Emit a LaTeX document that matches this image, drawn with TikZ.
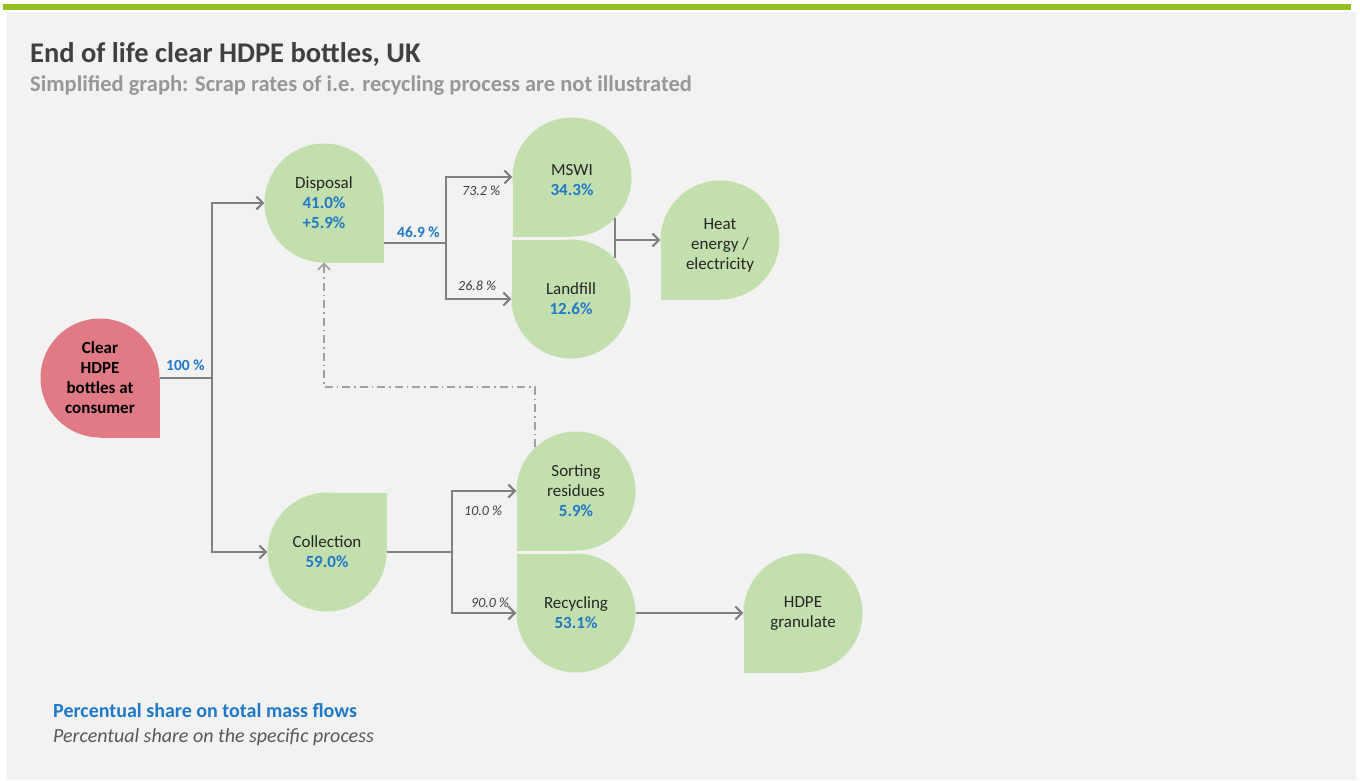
\documentclass[tikz,border=0pt]{standalone}
\usepackage{fontspec}
\setmainfont{Carlito}
\usetikzlibrary{arrows.meta}
\definecolor{panel}{HTML}{F2F2F2}
\definecolor{topbar}{HTML}{92C11F}
\definecolor{dropgreen}{HTML}{C3DFAD}
\definecolor{dropred}{HTML}{E07B86}
\definecolor{numblue}{HTML}{1F78C8}
\definecolor{flowgray}{HTML}{808080}
\definecolor{dashgray}{HTML}{A0A0A0}
\definecolor{titlegray}{HTML}{404040}
\definecolor{subgray}{HTML}{979797}
\definecolor{txtdark}{HTML}{262626}
\definecolor{legendgray}{HTML}{595959}
\tikzset{
  dropnode/.style={shape=rectangle, minimum width=119pt, minimum height=119pt, inner sep=0pt, align=center, text=txtdark, font=\fontsize{17}{20}\selectfont},
  flow/.style={draw=flowgray, line width=2pt},
  flowarrow/.style={flow, -{Straight Barb[length=6.5pt,width=13pt]}},
  recirc/.style={draw=dashgray, line width=1.5pt, dash pattern=on 8pt off 4pt on 1.5pt off 4pt, -{Straight Barb[length=6pt,width=12pt]}},
  pct/.style={anchor=base west, text=numblue, font=\fontsize{15.5}{18}\selectfont\bfseries, inner sep=0pt},
  share/.style={anchor=base west, text=titlegray, font=\fontsize{14}{17}\selectfont\itshape, inner sep=0pt},
  plaintext/.style={anchor=base west, inner sep=0pt},
}
\newcommand\bluenum[1]{\textcolor{numblue}{\textbf{#1}}}
\newcommand\teardrop[4]{\fill[#1] (#2) circle[radius=59.5pt]; \fill[#1] (#2) rectangle ++(#3,#4);}
\begin{document}
\begin{tikzpicture}[x=1pt,y=-1pt]
\useasboundingbox (0,0) rectangle (1360,780);
\fill[white] (0,0) rectangle (1360,780);
\fill[panel] (7,12) rectangle (1356,780);
\fill[topbar] (3,4) rectangle (1351,10);

\node[plaintext, text=titlegray, font=\fontsize{28.5}{32}\selectfont\bfseries] (title) at (30,62) {End of life clear HDPE bottles, UK};
\node[plaintext, text=subgray, font=\fontsize{22.5}{26}\selectfont\bfseries] (subtitle) at (30,91) {Simplified graph: Scrap rates of i.e. recycling process are not illustrated};

% teardrop shapes
\teardrop{dropred}{100,378}{59.5}{59.5}
\teardrop{dropgreen}{324,203}{59.5}{59.5}
\teardrop{dropgreen}{572,177}{-59.5}{59.5}
\teardrop{dropgreen}{571,299}{-59.5}{-59.5}
\teardrop{dropgreen}{720,240}{-59.5}{59.5}
\teardrop{dropgreen}{327,552}{59.5}{-59.5}
\teardrop{dropgreen}{576,491}{-59.5}{59.5}
\teardrop{dropgreen}{576,613}{-59.5}{-59.5}
\teardrop{dropgreen}{803,613}{-59.5}{59.5}

% nodes
\node[dropnode, text=black, font=\fontsize{17}{20}\selectfont\bfseries] (clear) at (100,378) {Clear\\HDPE\\bottles at\\consumer};
\node[dropnode] (disp) at (324,203) {Disposal\\\bluenum{41.0\%}\\\bluenum{+5.9\%}};
\node[dropnode] (msw) at (572,180) {MSWI\\\bluenum{34.3\%}};
\node[dropnode] (land) at (571,299) {Landfill\\\bluenum{12.6\%}};
\node[dropnode] (heat) at (720,245) {Heat\\energy /\\electricity};
\node[dropnode] (coll) at (327,552) {Collection\\\bluenum{59.0\%}};
\node[dropnode] (sort) at (576,491) {Sorting\\residues\\\bluenum{5.9\%}};
\node[dropnode] (recy) at (576,613) {Recycling\\\bluenum{53.1\%}};
\node[dropnode] (gran) at (803,613) {HDPE\\granulate};

% connectors
\coordinate (b1) at (212,378);
\draw[flow] (clear.east) -- (b1);
\draw[flowarrow] (b1) |- (disp.west);
\draw[flowarrow] (b1) |- (coll.west);

\coordinate (b2) at (446,243);
\draw[flow] (disp.east |- b2) -- (b2);
\draw[flowarrow] (b2) |- ([yshift=3pt]msw.west);
\draw[flowarrow] (b2) |- (land.west);

\coordinate (j1) at (615,218);
\coordinate (j2) at (615,258);
\coordinate (j3) at (615,240);
\draw[flow] (j1) -- (j2);
\draw[flowarrow] (j3) -- ([yshift=5pt]heat.west);

\coordinate (b3) at (452,552);
\draw[flow] (coll.east) -- (b3);
\draw[flowarrow] (b3) |- (sort.west);
\draw[flowarrow] (b3) |- (recy.west);

\draw[flowarrow] (recy.east) -- (gran.west);

\coordinate (d0) at (535,447);
\coordinate (d1) at (324,387);
\draw[recirc] (d0) |- (d1) -- (disp.south);

% labels
\node[pct] (p100) at (166,370) {100 \%};
\node[pct] (p469) at (397,237) {46.9 \%};
\node[share] (s732) at (462,195) {73.2 \%};
\node[share] (s268) at (458,290) {26.8 \%};
\node[share] (s100) at (464,515) {10.0 \%};
\node[share] (s900) at (471,607) {90.0 \%};

% legend
\node[plaintext, text=numblue, font=\fontsize{20}{24}\selectfont\bfseries] (leg1) at (53,717) {Percentual share on total mass flows};
\node[plaintext, text=legendgray, font=\fontsize{20}{24}\selectfont\itshape] (leg2) at (53,742) {Percentual share on the specific process};
\end{tikzpicture}
\end{document}
